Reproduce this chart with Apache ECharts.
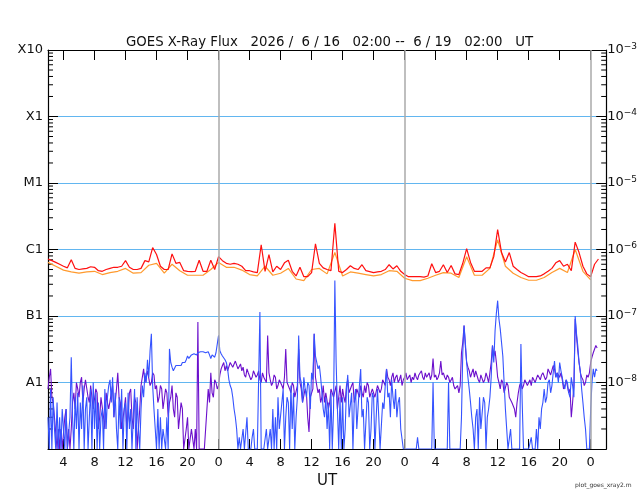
<!DOCTYPE html>
<html>
<head>
<meta charset="utf-8">
<script src="https://cdn.jsdelivr.net/npm/echarts@6/dist/echarts.min.js"></script>
<style>
html,body{margin:0;padding:0;background:#fff}
#chart{width:640px;height:500px}
</style>
</head>
<body>
<div id="chart"></div>
<script>
// time is in hours counted from 6/16 00:00 UT
var startHour = 2;
var endHour = 74;
var xTicks = [4,8,12,16,20,24,28,32,36,40,44,48,52,56,60,64,68,72];
var dayLines = [24, 48, 72];

// flux scale, left class labels from 1e-3 down to 1e-8
var classLabels = ['X10','X1','M1','C1','B1','A1'];
var minorSteps = [2,3,4,5,6,7,8,9];

// all fluxes below are in units of 1e-9 W/m^2
// long channel, primary (red), one value every 30 min from 02:00
var redFlux = [
 720,680,640,600,560,530,700,520,500,510,520,550,540,480,470,500,
 520,540,540,560,680,540,500,500,520,680,650,1070,840,560,500,500,
 860,620,640,480,470,465,470,690,470,470,690,500,780,680,620,600,
 620,600,560,480,480,460,450,1180,470,840,460,560,500,630,690,470,
 400,540,390,390,450,1220,620,530,500,480,2480,470,450,500,570,520,
 500,590,480,465,450,460,470,500,590,510,570,470,420,390,390,390,
 390,385,400,610,450,470,590,450,575,430,420,620,1030,640,470,470,
 470,530,530,780,2000,900,650,900,560,500,450,420,390,390,390,400,
 430,470,520,630,680,560,600,480,1290,900,560,430,390,600,720
];
// long channel, secondary (orange), one value every hour from 02:00
var orangeFlux = [
 640,560,490,460,440,460,470,420,450,470,520,440,450,580,620,440,
 600,480,410,410,410,500,640,540,540,490,420,400,560,410,440,520,
 360,340,500,520,430,900,400,460,440,420,400,420,480,470,370,340,
 340,370,410,450,440,380,780,410,410,520,1400,560,440,380,345,345,
 380,450,520,450,1000,470,350
];
// short channel (blue), one value every 10 min from 02:00, six per group = one hour
var blueFlux = [
 3,1,8,1,6,2,  1,5,1,3,1,4,  2,1,4,1,1,3,  24,3,1,6,2,7,
 1,5,2,9,1,4,  6,1,3,8,1,10,  2,7,1,5,1,3,  4,1,8,2,6,9,
 11,5,12,3,7,2,  1,6,2,8,1,4,  5,1,7,2,4,1,  3,8,1,6,2,1,
 4,9,6,14,10,22,  12,30,54,9,4,2,  1,4,1,3,1,2,  2,1,3,1,32,20,
 17,15,16,18,17,18,  19,18,20,21,20,22,  25,23,24,26,25,27,  27,26,28,30,29,31,
 29,30,28,27,29,26,  23,26,25,24,28,27,  51,30,27,25,24,22,  20,16,11,9,8,6,
 4,3,2,1,1.5,1,  1,2,1,1,3,1,  1,1,1.5,2,1,1,  1,1,115,1,1,1,
 1,2,1,1,2,1,  4,1,3,1,6,2,  2,5,8,1,3,6,  5,1,9,2,7,1,
 3,6,51,12,10,5,  12,8,6,10,9,4,  14,11,54,25,20,16,  18,12,7,4,3,6,
 2,5,1,7,1,4,  343,20,4,1,6,1,  6,1,2,8,13,3,  3,7,1,5,8,2,
 2,9,16,3,4,1,  1,6,5,1,2,7,  6,1,3,8,3,1,  1,5,4,9,16,6,
 7,3,11,6,4,8,  3,5,6,2,2,1,  1,1,1,1,1,1,  1,1,1,1,1.5,1,
 1,1,1,1,1,1,  1,1,1,1,10,1,  1,1,1,1,1,1,  1,1,1,1,10,1,
 1,1,1,1,1,1,  1,1,3,28,72,40,  20,12,8,5,3,2,  1,3,4,1,6,2,
 2,6,5,1,3,4,  6,12,36,20,60,110,  170,90,64,40,25,10,  4,2,1,1,2,1,
 1,1,1,1,1,1,  38,5,1,1,1,1,  1,1,1.5,1,1,1,  2,1,3,2,4,5,
 8,5,6,10,11,7,  9,14,21,12,14,10,  20,15,12,9,8,11,  10,7,6,12,9,6,
 100,55,36,20,15,8,  5,3,2,1,1,1,  4,10,16,12,16,15
];
// short channel (purple), one value every 10 min from 02:00, six per group = one hour
var purpleFlux = [
 8,12,16,6,5,3,  3,1,2,1,2,1,  1,3,4,1,2,1,  2,5,7,4,10,8,
 6,10,12,5,8,11,  11,6,5,9,9,4,  4,8,7,2,3,6,  6,3,2,7,5,4,
 4,7,9,3,3,8,  14,6,5,2,2,4,  6,2,3,7,8,3,  2,6,5,1,1,4,
 9,12,16,10,12,15,  15,9,10,14,13,8,  9,5,6,9,8,4,  4,8,7,3,5,6,
 9,4,3,7,6,2,  2,5,4,1,1,2,  3,1,1,2,2,1,  2,1,81,1,1,1,
 1,1,2,4,8,5,  14,7,6,11,10,8,  9,13,16,18,20,15,  18,15,16,20,19,17,
 17,21,20,16,16,19,  15,17,13,12,16,14,  14,11,12,15,15,12,  13,15,11,10,14,12,
 12,10,51,14,11,9,  10,13,12,8,9,11,  11,9,8,12,32,10,  10,8,7,10,9,6,
 6,9,32,10,8,5,  5,8,7,3,1.8,6,  6,8,54,12,9,7,  8,5,6,9,5,7,
 7,4,5,8,8,6,  6,9,4,6,9,5,  8,6,5,9,11,7,  7,9,10,5,6,8,
 8,6,9,7,6,9,  7,10,9,6,6,8,  8,6,6,9,9,7,  8,11,10,9,16,12,
 11,9,12,14,10,12,  13,10,11,13,9,11,  12,14,11,12,13,10,  12,11,14,12,11,13,
 13,15,12,11,14,12,  12,14,11,13,23,12,  13,11,12,14,21,13,  14,12,11,13,12,10,
 10,12,9,8,8,9,  7,9,28,40,72,35,  20,17,15,12,14,16,  12,15,14,11,10,13,
 13,10,11,14,12,10,  14,20,36,25,30,20,  12,10,8,11,10,7,  7,10,9,6,6,5,
 5,4,3,5,7,9,  10,8,9,11,11,9,  10,11,9,12,11,10,  10,13,12,11,13,14,
 14,11,12,16,15,13,  13,18,16,12,14,15,  12,14,11,8,9,11,  11,7,8,3,5,9,
 90,50,30,20,14,12,  11,9,10,13,12,14,  20,24,28,30,36,33
];

function toSeries(arr, stepHours) {
    return arr.map(function (v, i) {
        return [startHour + i * stepHours, v * 1e-9];
    });
}

// minor log ticks: 2..9 inside each decade
var minorTicks = [];
for (var e = -9; e < -3; e++) {
    minorSteps.forEach(function (k) { minorTicks.push(k * Math.pow(10, e)); });
}

var font = 'DejaVu Sans';
var chart = echarts.init(document.getElementById('chart'));

function lineSeries(name, data, color, width) {
    return {
        name: name,
        type: 'line',
        data: data,
        showSymbol: false,
        symbol: 'none',
        clip: true,
        silent: true,
        lineStyle: { color: color, width: width },
        emphasis: { disabled: true }
    };
}

// short inward ticks on both side axes, placed through the log y scale
function drawMinorTick(params, api) {
    var v = api.value(1);
    var pl = api.coord([startHour, v]);
    var pr = api.coord([endHour, v]);
    var st = { stroke: '#000', lineWidth: 1 };
    return {
        type: 'group',
        children: [
            { type: 'line', shape: { x1: pl[0], y1: pl[1], x2: pl[0] + 5, y2: pl[1] }, style: st },
            { type: 'line', shape: { x1: pr[0], y1: pr[1], x2: pr[0] - 5, y2: pr[1] }, style: st }
        ]
    };
}

chart.setOption({
    animation: false,
    backgroundColor: '#fff',
    title: {
        text: 'GOES X-Ray Flux   2026 /  6 / 16   02:00 --  6 / 19   02:00   UT',
        left: 121,
        top: 31,
        textStyle: { fontFamily: font, fontSize: 13.3, fontWeight: 'normal', color: '#111' }
    },
    graphic: [{
        type: 'text',
        left: 575,
        top: 482,
        style: { text: 'plot_goes_xray2.m', fontFamily: font, fontSize: 6, fill: '#333' }
    }],
    grid: { left: 48, right: 33, top: 50, bottom: 51 },
    xAxis: [{
        type: 'value',
        position: 'bottom',
        min: startHour,
        max: endHour,
        name: 'UT',
        nameLocation: 'middle',
        nameGap: 24,
        nameTextStyle: { fontFamily: font, fontSize: 15, color: '#111' },
        axisLine: { lineStyle: { color: '#000', width: 1.2 } },
        axisTick: { inside: true, length: 10, customValues: xTicks, lineStyle: { color: '#000' } },
        axisLabel: {
            customValues: xTicks,
            margin: 7,
            fontFamily: font,
            fontSize: 13,
            color: '#111',
            formatter: function (v) { return String(Math.round(v) % 24); }
        },
        splitLine: { show: false }
    }, {
        type: 'value',
        position: 'top',
        min: startHour,
        max: endHour,
        axisLine: { lineStyle: { color: '#000', width: 1.2 } },
        axisTick: { inside: true, length: 10, customValues: xTicks, lineStyle: { color: '#000' } },
        axisLabel: { show: false },
        splitLine: { show: false }
    }],
    yAxis: [{
        type: 'log',
        logBase: 10,
        min: 1e-9,
        max: 1e-3,
        position: 'left',
        axisLine: { show: true, lineStyle: { color: '#000', width: 1.2 } },
        axisTick: { inside: true, length: 10, lineStyle: { color: '#000' } },
        axisLabel: {
            margin: 5,
            fontFamily: font,
            fontSize: 13,
            color: '#111',
            formatter: function (v) {
                var idx = -3 - Math.round(Math.log10(v));
                return (idx >= 0 && idx < classLabels.length) ? classLabels[idx] : '';
            }
        },
        splitLine: { show: true, lineStyle: { color: '#62b6f0', width: 1.2 } }
    }, {
        type: 'log',
        logBase: 10,
        min: 1e-9,
        max: 1e-3,
        position: 'right',
        axisLine: { show: true, lineStyle: { color: '#000', width: 1.2 } },
        axisTick: { inside: true, length: 10, lineStyle: { color: '#000' } },
        axisLabel: {
            margin: 1,
            fontFamily: font,
            color: '#111',
            formatter: function (v) {
                var ex = Math.round(Math.log10(v));
                if (ex <= -9) return '';
                return '{b|10}{s|\u2212' + (-ex) + '}';
            },
            rich: {
                b: { fontFamily: font, fontSize: 13, color: '#111' },
                s: { fontFamily: font, fontSize: 9, color: '#111', verticalAlign: 'top', padding: [0, 0, 7, 0] }
            }
        },
        splitLine: { show: false }
    }],
    series: [
        {
            // day boundaries
            type: 'line',
            data: [],
            silent: true,
            markLine: {
                silent: true,
                symbol: 'none',
                label: { show: false },
                lineStyle: { color: '#aaaaaa', width: 1.5, type: 'solid' },
                data: dayLines.map(function (h) { return { xAxis: h }; })
            }
        },
        {
            type: 'custom',
            silent: true,
            clip: false,
            data: minorTicks.map(function (v) { return [startHour, v]; }),
            encode: { x: 0, y: 1 },
            renderItem: drawMinorTick
        },
        lineSeries('purple', toSeries(purpleFlux, 1 / 6), '#6c10cc', 1.1),
        lineSeries('blue', toSeries(blueFlux, 1 / 6), '#3553ff', 1.1),
        lineSeries('orange', toSeries(orangeFlux, 1), '#ff9a2e', 1.2),
        lineSeries('red', toSeries(redFlux, 0.5), '#ff1010', 1.2)
    ]
});
</script>
</body>
</html>
